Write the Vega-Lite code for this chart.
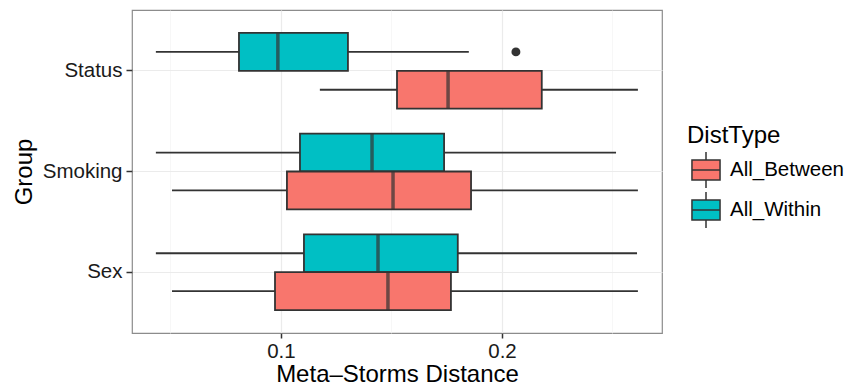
{
  "$schema": "https://vega.github.io/schema/vega-lite/v6.json",
  "width": 530,
  "height": 323,
  "autosize": {"type": "none"},
  "padding": {"left": 132, "top": 10, "right": 183, "bottom": 58},
  "background": "white",
  "config": {
    "font": "Liberation Sans",
    "view": {"stroke": "#8c8c8c", "strokeWidth": 1.2},
    "legend": {
      "symbolType": "M-0.78,-0.55H0.78V0.55H-0.78Z M-0.78,0H0.78 M0,-0.55V-1 M0,0.55V1",
      "symbolSize": 1296,
      "symbolStrokeColor": "#333333",
      "symbolStrokeWidth": 1.5
    }
  },
  "datasets": {
    "boxes": [
      {"group": "Status", "type": "All_Within", "lower": 0.0434, "q1": 0.081, "median": 0.0986, "q3": 0.1303, "upper": 0.185},
      {"group": "Status", "type": "All_Between", "lower": 0.1176, "q1": 0.1525, "median": 0.1756, "q3": 0.218, "upper": 0.2615},
      {"group": "Smoking", "type": "All_Within", "lower": 0.0434, "q1": 0.1086, "median": 0.1412, "q3": 0.1738, "upper": 0.2516},
      {"group": "Smoking", "type": "All_Between", "lower": 0.0507, "q1": 0.1027, "median": 0.1507, "q3": 0.186, "upper": 0.2615},
      {"group": "Sex", "type": "All_Within", "lower": 0.0434, "q1": 0.1104, "median": 0.1439, "q3": 0.18, "upper": 0.2611},
      {"group": "Sex", "type": "All_Between", "lower": 0.0507, "q1": 0.0973, "median": 0.1484, "q3": 0.1769, "upper": 0.2615}
    ],
    "outliers": [
      {"group": "Status", "type": "All_Within", "value": 0.2063}
    ]
  },
  "data": {"name": "boxes"},
  "encoding": {
    "y": {
      "field": "group",
      "type": "nominal",
      "sort": ["Status", "Smoking", "Sex"],
      "title": "Group",
      "scale": {"paddingInner": 0, "paddingOuter": 0.104},
      "axis": {
        "bandPosition": 0.5,
        "grid": true,
        "gridColor": "#ebebeb",
        "gridWidth": 1.2,
        "domain": false,
        "tickColor": "#333333",
        "tickSize": 6,
        "tickWidth": 1.5,
        "labelFontSize": 20.5,
        "labelColor": "#1a1a1a",
        "labelPadding": 4,
        "titleFontSize": 24,
        "titleFontWeight": "normal",
        "titleColor": "#000000",
        "titlePadding": 6
      }
    },
    "yOffset": {
      "field": "type",
      "type": "nominal",
      "sort": ["All_Within", "All_Between"],
      "scale": {"paddingInner": 0, "paddingOuter": 0.33}
    }
  },
  "layer": [
    {
      "mark": {"type": "rule", "color": "#333333", "strokeWidth": 1.8},
      "encoding": {
        "x": {
          "field": "lower",
          "type": "quantitative",
          "title": "Meta–Storms Distance",
          "scale": {"domain": [0.0326, 0.2724], "nice": false, "zero": false},
          "axis": {
            "values": [0.05, 0.1, 0.15, 0.2, 0.25],
            "labelExpr": "abs(datum.value-0.1)<1e-6 || abs(datum.value-0.2)<1e-6 ? format(datum.value, '.1f') : ''",
            "grid": true,
            "gridColor": {"condition": {"test": "abs(datum.value-0.1)<1e-6 || abs(datum.value-0.2)<1e-6", "value": "#ebebeb"}, "value": "#f3f3f3"},
            "gridWidth": {"condition": {"test": "abs(datum.value-0.1)<1e-6 || abs(datum.value-0.2)<1e-6", "value": 1.2}, "value": 0.7},
            "tickOpacity": {"condition": {"test": "abs(datum.value-0.1)<1e-6 || abs(datum.value-0.2)<1e-6", "value": 1}, "value": 0},
            "domain": false,
            "tickColor": "#333333",
            "tickSize": 5,
            "tickWidth": 1.5,
            "labelFontSize": 20.5,
            "labelColor": "#1a1a1a",
            "labelPadding": 3,
            "titleFontSize": 24,
            "titleFontWeight": "normal",
            "titleColor": "#000000",
            "titlePadding": 1
          }
        },
        "x2": {"field": "q1"}
      }
    },
    {
      "mark": {"type": "rule", "color": "#333333", "strokeWidth": 1.8},
      "encoding": {
        "x": {"field": "q3", "type": "quantitative"},
        "x2": {"field": "upper"}
      }
    },
    {
      "mark": {"type": "bar", "stroke": "#333333", "strokeWidth": 1.8},
      "encoding": {
        "x": {"field": "q1", "type": "quantitative"},
        "x2": {"field": "q3"},
        "fill": {
          "field": "type",
          "type": "nominal",
          "title": "DistType",
          "scale": {"domain": ["All_Between", "All_Within"], "range": ["#F8766D", "#00BFC4"]},
          "legend": {
            "orient": "none",
            "legendX": 555,
            "legendY": 114,
            "titleFontSize": 24,
            "titleFontWeight": "normal",
            "titleColor": "#000000",
            "titlePadding": 3,
            "labelFontSize": 20.5,
            "labelColor": "#000000",
            "labelOffset": 5,
            "rowPadding": -11
          }
        }
      }
    },
    {
      "mark": {"type": "tick", "orient": "vertical", "color": "#333333", "size": 38, "thickness": 3.5},
      "encoding": {
        "x": {"field": "median", "type": "quantitative"}
      }
    },
    {
      "data": {"name": "outliers"},
      "mark": {"type": "point", "filled": true, "color": "#333333", "size": 80, "opacity": 1},
      "encoding": {
        "x": {"field": "value", "type": "quantitative"}
      }
    }
  ]
}
